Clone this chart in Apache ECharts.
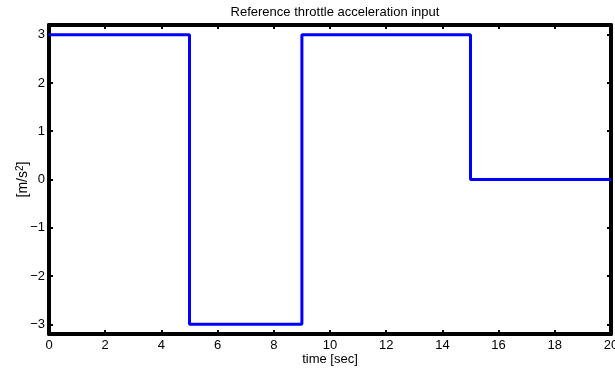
<!DOCTYPE html>
<html>
<head>
<meta charset="utf-8">
<script src="https://cdn.jsdelivr.net/npm/echarts@6/dist/echarts.min.js"></script>
<style>
  html, body { margin: 0; padding: 0; background: #fff; }
  #chart { width: 615px; height: 369px; }
</style>
</head>
<body>
<div id="chart"></div>
<script>
// Throttle acceleration reference: piecewise-constant steps over 20 s
const timeSec = [0, 5, 5, 9, 9, 15, 15, 20];
const accel   = [3, 3, -3, -3, 3, 3, 0, 0];
const xTicks = [0, 2, 4, 6, 8, 10, 12, 14, 16, 18, 20];
const yTicks = [-3, -2, -1, 0, 1, 2, 3];

const FONT = 'Liberation Sans, Arial, sans-serif';
const fmt = v => String(v).replace('-', '\u2212');

const frame = { show: true, onZero: false, lineStyle: { color: '#000', width: 4 } };
const tick = (vals) => ({ show: true, inside: true, length: 4, customValues: vals,
  lineStyle: { color: '#000', width: 2 } });

const chart = echarts.init(document.getElementById('chart'), null, { renderer: 'canvas' });
chart.setOption({
  animation: false,
  backgroundColor: '#fff',
  title: {
    text: 'Reference throttle acceleration input',
    left: 330, top: 1, textAlign: 'center',
    textStyle: { fontFamily: FONT, fontSize: 13, fontWeight: 'normal', color: '#000' }
  },
  grid: { left: 49, right: 4, top: 25, bottom: 35, containLabel: false, outerBoundsMode: 'none' },
  xAxis: [{
    type: 'value', min: 0, max: 20, position: 'bottom',
    axisLine: frame, axisTick: tick(xTicks), splitLine: { show: false },
    axisLabel: { customValues: xTicks, margin: 5, formatter: fmt,
      fontFamily: FONT, fontSize: 13, color: '#000' },
    name: 'time [sec]', nameLocation: 'middle', nameGap: 19, nameMoveOverlap: false,
    nameTextStyle: { fontFamily: FONT, fontSize: 13, color: '#000' }
  }, {
    type: 'value', min: 0, max: 20, position: 'top',
    axisLine: frame, axisTick: tick(xTicks), splitLine: { show: false },
    axisLabel: { show: false }
  }],
  yAxis: [{
    type: 'value', min: -3.2, max: 3.2, position: 'left',
    axisLine: frame, axisTick: tick(yTicks), splitLine: { show: false },
    axisLabel: { customValues: yTicks, margin: 4, formatter: fmt,
      fontFamily: FONT, fontSize: 13, color: '#000' },
    name: '[m/s{sup|2}]', nameLocation: 'middle', nameGap: 18, nameRotate: 90, nameMoveOverlap: false,
    nameTextStyle: { fontFamily: FONT, fontSize: 14, color: '#000',
      rich: { sup: { fontFamily: FONT, fontSize: 10, color: '#000', verticalAlign: 'top', padding: [0, 0, 6, 0] } } }
  }, {
    type: 'value', min: -3.2, max: 3.2, position: 'right',
    axisLine: frame, axisTick: tick(yTicks), splitLine: { show: false },
    axisLabel: { show: false }
  }],
  series: [{
    type: 'line',
    data: timeSec.map((t, i) => [t, accel[i]]),
    showSymbol: false,
    lineStyle: { color: '#0000ff', width: 3 },
    z: 1
  }]
});
</script>
</body>
</html>
